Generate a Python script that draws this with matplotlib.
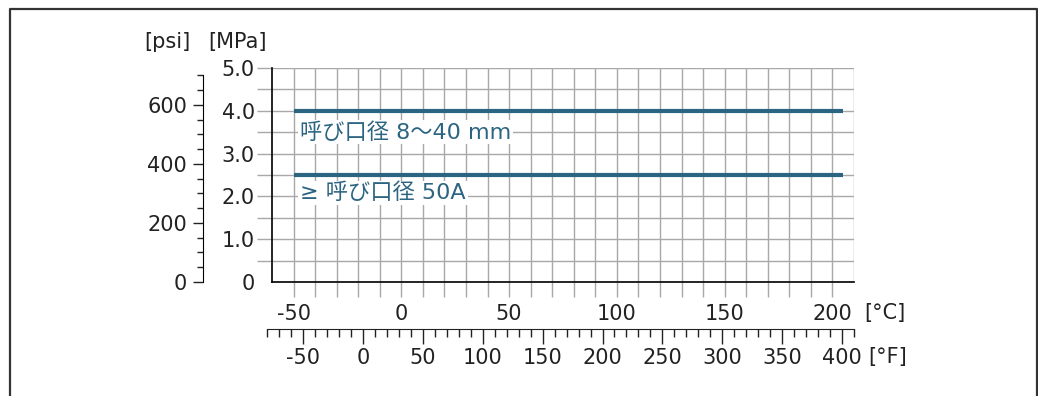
import numpy as np
import matplotlib
matplotlib.use("Agg")
import matplotlib.pyplot as plt
from matplotlib.lines import Line2D

# ================= DATA =================
temp_c = [-50, 205]                     # line range [°C]
p_small = [4.0, 4.0]                    # 8~40 mm [MPa]
p_large = [2.5, 2.5]                    # >= 50A [MPa]
label_small = "呼び口径 8〜40 mm"
label_large = "≥ 呼び口径 50A"

c_ticks = list(range(-50, 211, 10))
c_labels = [str(v) if v % 50 == 0 and v <= 200 else "" for v in c_ticks]
mpa_ticks = [0, 0.5, 1.0, 1.5, 2.0, 2.5, 3.0, 3.5, 4.0, 4.5, 5.0]
mpa_labels = ["0", "", "1.0", "", "2.0", "", "3.0", "", "4.0", "", "5.0"]
psi_major = [0, 200, 400, 600]
psi_minor = list(range(0, 701, 50))
f_major = list(range(-50, 401, 50))
f_minor = list(range(-80, 411, 10))

# ================= STYLE =================
plt.rcParams['font.family'] = ['DejaVu Sans', 'Noto Sans CJK JP']
plt.rcParams['axes.unicode_minus'] = False
FS = 15
TXT = '#222222'
GRID = '#a8a8a8'
LINE = '#2c6581'
W, H = 1038, 396


def fx(px):
    return px / W


def fy(py):
    return 1 - py / H


fig = plt.figure(figsize=(W / 100, H / 100), dpi=100)

# frame
fig.add_artist(Line2D([fx(10), fx(10), fx(1037), fx(1037)], [0, fy(9), fy(9), 0],
                      transform=fig.transFigure, color='#333333', lw=1.6))

# ================= MAIN AXES =================
L, R, B, T = 272, 854, 282, 68
ax = fig.add_axes([fx(L), fy(B), fx(R) - fx(L), fy(T) - fy(B)])
ax.set_xlim(-60, 210)
ax.set_ylim(0, 5.0)
ax.set_xticks(c_ticks)
ax.set_xticklabels(c_labels)
ax.set_yticks(mpa_ticks)
ax.set_yticklabels(mpa_labels)
ax.grid(True, color=GRID, lw=1.0)
ax.set_axisbelow(True)
ax.tick_params(axis='x', length=11, width=1.0, color=GRID, pad=5, labelsize=FS, labelcolor=TXT)
ax.tick_params(axis='y', length=10.5, width=1.0, color=GRID, pad=2, labelsize=FS, labelcolor=TXT)
ax.xaxis.get_major_ticks()[-1].tick1line.set_visible(False)
ax.yaxis.get_major_ticks()[0].tick1line.set_visible(False)
for s in ['top', 'right']:
    ax.spines[s].set_visible(False)
for s in ['left', 'bottom']:
    ax.spines[s].set_color('black')
    ax.spines[s].set_linewidth(1.2)

ax.plot(temp_c, p_small, color=LINE, lw=3, solid_capstyle='butt', zorder=3)
ax.plot(temp_c, p_large, color=LINE, lw=3, solid_capstyle='butt', zorder=3)
bb = dict(facecolor='white', edgecolor='none', pad=1.5)
ax.text(-47, 3.5, label_small, color=LINE, fontsize=16, va='center', ha='left',
        bbox=bb, zorder=4)
ax.text(-47, 2.08, label_large, color=LINE, fontsize=16, va='center', ha='left',
        bbox=bb, zorder=4)

# ================= PSI AXIS =================
axp = fig.add_axes([fx(203), fy(B), 0.01, fy(T) - fy(B)])
axp.patch.set_visible(False)
axp.set_ylim(0, 5.0 * 145.038)
axp.set_xticks([])
axp.set_yticks(psi_major)
axp.set_yticks(psi_minor, minor=True)
axp.spines['left'].set_bounds(0, 700)
for s in ['top', 'right', 'bottom']:
    axp.spines[s].set_visible(False)
axp.tick_params(axis='y', which='major', length=7.5, width=1.0, color=TXT, pad=4,
                labelsize=FS, labelcolor=TXT)
axp.tick_params(axis='y', which='minor', length=4.5, width=1.0, color=TXT)

# ================= FAHRENHEIT AXIS =================
def c_to_px(c):
    return L + (c + 60) / 270 * (R - L)


fl = c_to_px((-80 - 32) * 5 / 9)
fr = c_to_px((410 - 32) * 5 / 9)
axf = fig.add_axes([fx(fl), fy(329), fx(fr) - fx(fl), 0.001])
axf.patch.set_visible(False)
axf.set_xlim(-80, 410)
axf.set_yticks([])
axf.set_xticks(f_major)
axf.set_xticks(f_minor, minor=True)
for s in ['top', 'right', 'left']:
    axf.spines[s].set_visible(False)
axf.spines['bottom'].set_color(TXT)
axf.tick_params(axis='x', which='major', length=11, width=1.0, color=TXT, pad=3,
                labelsize=FS, labelcolor=TXT)
axf.tick_params(axis='x', which='minor', length=6, width=1.0, color=TXT)

# ================= UNIT LABELS =================
fig.text(fx(167), fy(42), "[psi]", fontsize=FS, color=TXT, ha='center', va='center')
fig.text(fx(238), fy(42), "[MPa]", fontsize=FS, color=TXT, ha='center', va='center')
fig.text(fx(864), fy(313), "[°C]", fontsize=FS, color=TXT, ha='left', va='center')
fig.text(fx(868), fy(357), "[°F]", fontsize=FS, color=TXT, ha='left', va='center')

fig.savefig("out.png", dpi=100)
